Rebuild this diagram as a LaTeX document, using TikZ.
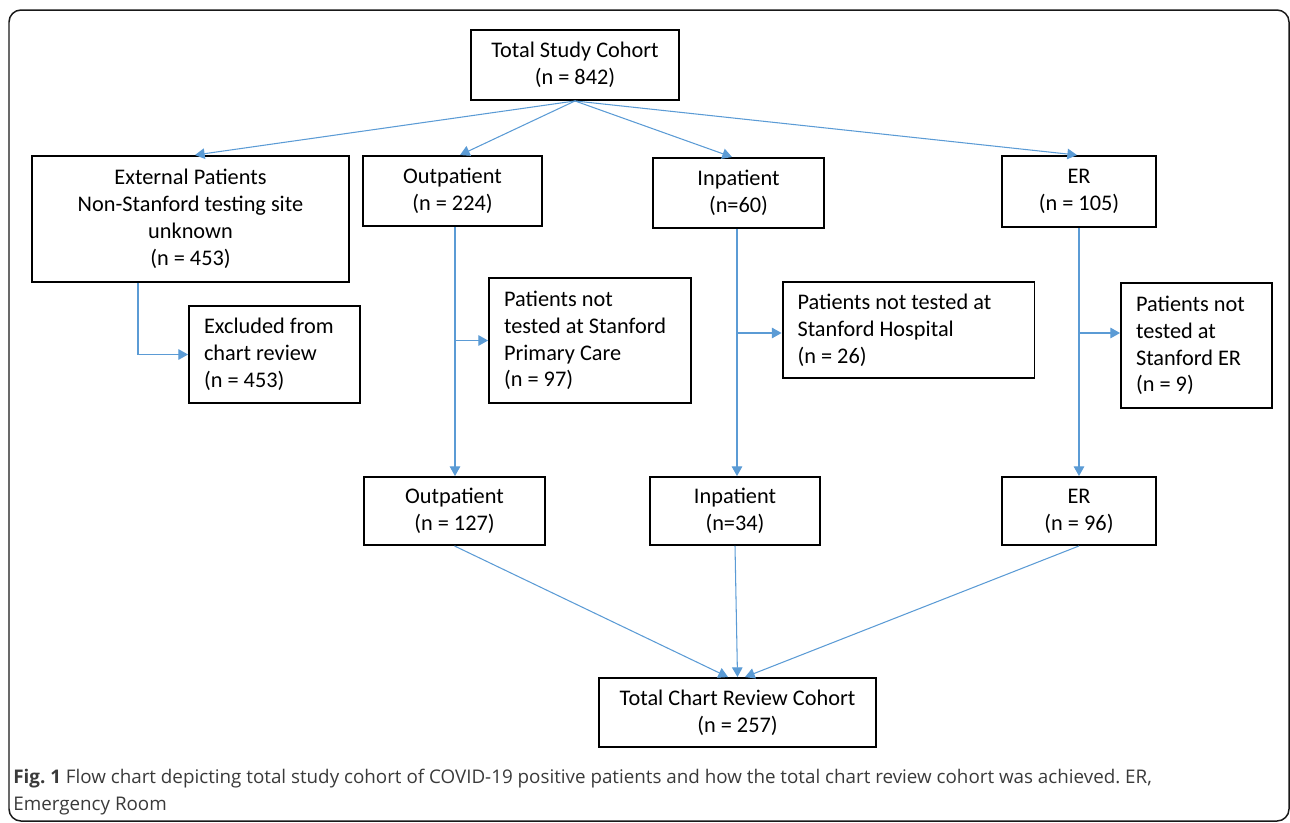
\documentclass[tikz,border=0pt]{standalone}
\usepackage{fontspec}
\setmainfont{Carlito}
\newfontfamily\capfont{Open Sans}
\usetikzlibrary{arrows.meta,calc}
\frenchspacing
\definecolor{linkblue}{RGB}{91,155,213}
\definecolor{capgray}{RGB}{58,58,58}
\tikzset{
  box/.style={draw=black, line width=1.1pt, align=center, inner sep=2pt,
    font=\fontsize{12.7}{15.3}\selectfont},
  lbox/.style={box, align=flush left, inner xsep=0.3cm},
  link/.style={draw=linkblue, line width=0.6pt},
  arr/.style={link, -{Triangle[length=5.5pt,width=6pt]}},
}
\begin{document}
\begin{tikzpicture}[x=0.02cm,y=-0.02cm]
\useasboundingbox (0,0) rectangle (1290,822);
\draw[line width=0.85pt, rounded corners=0.24cm, draw=black!90] (9,10) rectangle (1289,821);

\node[box, minimum width=4.16cm, minimum height=1.40cm] (top) at (575,65) {Total Study Cohort\\(n = 842)};
\node[box, minimum width=6.34cm, minimum height=2.52cm] (ext) at (190.5,219) {External Patients\\Non-Stanford testing site\\unknown\\(n = 453)};
\node[box, minimum width=3.58cm, minimum height=1.40cm] (out1) at (452.5,191) {Outpatient\\(n = 224)};
\node[box, minimum width=3.42cm, minimum height=1.40cm] (in1) at (738.5,193) {Inpatient\\(n=60)};
\node[box, minimum width=3.08cm, minimum height=1.42cm] (er1) at (1079,191.5) {ER\\(n = 105)};

\node[lbox, text width=2.82cm, minimum height=1.94cm] (excl) at (274.5,354.5) {Excluded from\\chart review\\(n = 453)};
\node[lbox, text width=3.44cm, minimum height=2.50cm] (pc) at (590,340.5) {Patients not\\tested at Stanford\\Primary Care\\(n = 97)};
\node[lbox, text width=4.44cm, minimum height=1.92cm] (hosp) at (908.5,330) {Patients not tested at\\Stanford Hospital\\(n = 26)};
\node[lbox, text width=2.42cm, minimum height=2.50cm] (ser) at (1196.5,345.5) {Patients not\\tested at\\Stanford ER\\(n = 9)};

\node[box, minimum width=3.62cm, minimum height=1.36cm] (out2) at (454.5,511) {Outpatient\\(n = 127)};
\node[box, minimum width=3.40cm, minimum height=1.36cm] (in2) at (735,511) {Inpatient\\(n=34)};
\node[box, minimum width=3.08cm, minimum height=1.36cm] (er2) at (1079,511) {ER\\(n = 96)};
\node[box, minimum width=5.54cm, minimum height=1.38cm] (fin) at (737.5,712.5) {Total Chart Review Cohort\\(n = 257)};

% top fan
\draw[arr] (top.south) -- ([xshift=0.09cm]ext.north);
\draw[arr] (top.south) -- ([xshift=0.15cm]out1.north);
\draw[arr] (top.south) -- ([xshift=-0.13cm]in1.north);
\draw[arr] (top.south) -- ([xshift=-0.04cm]er1.north);

% external -> excluded
\coordinate (eb) at ([xshift=-1.05cm]ext.south);
\draw[arr] (eb) |- (excl.west);

% verticals
\coordinate (ov) at ([xshift=0.05cm]out1.south);
\coordinate (iv) at ([xshift=-0.03cm]in1.south);
\draw[arr] (ov) -- (ov |- out2.north);
\draw[arr] (iv) -- (iv |- in2.north);
\draw[arr] (er1.south) -- (er1.south |- er2.north);

% side branches
\draw[arr] (ov |- pc.west) -- (pc.west);
\coordinate (hb) at ([yshift=-0.06cm]hosp.west);
\draw[arr] (iv |- hb) -- (hb);
\coordinate (sb) at ([yshift=0.25cm]ser.west);
\draw[arr] (er1.south |- sb) -- (sb);

% converge
\draw[arr] (out2.south) -- ([xshift=-0.19cm]fin.north);
\draw[arr] (in2.south) -- (fin.north);
\draw[arr] (er2.south) -- ([xshift=0.15cm]fin.north);

% caption
\node[anchor=base west, inner sep=0pt, align=flush left, text=capgray,
      font=\capfont\fontsize{10.7}{15.3}\selectfont] (cap) at (13,810)
  {{\bfseries Fig. 1} Flow chart depicting total study cohort of COVID-19 positive patients and how the total chart review cohort was achieved. ER,\\Emergency Room};
\end{tikzpicture}
\end{document}
